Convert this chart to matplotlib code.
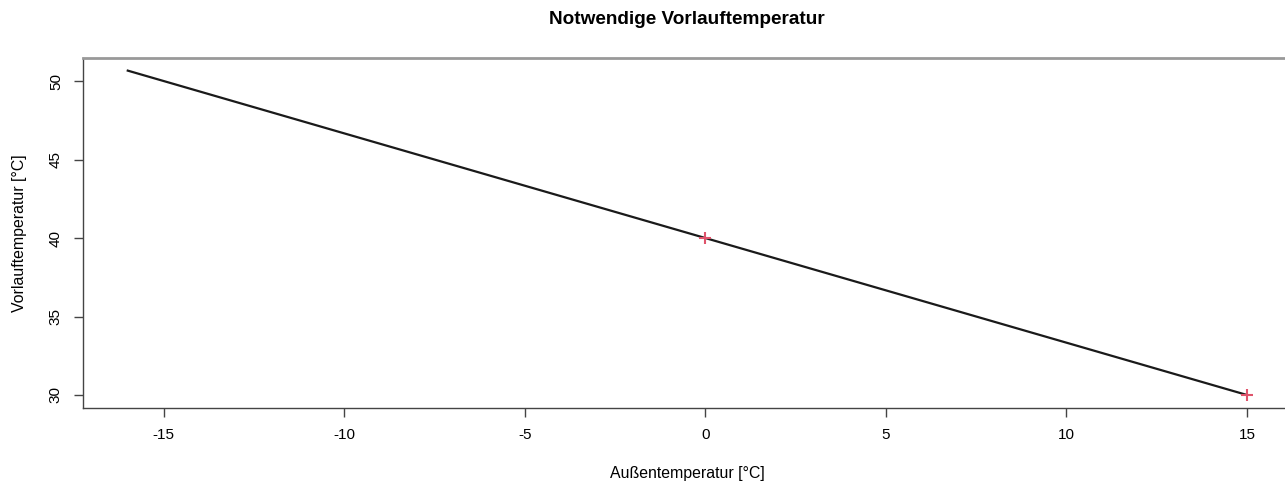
import matplotlib.pyplot as plt

plt.rcParams["font.family"] = ["Liberation Sans", "DejaVu Sans"]

# Heizkurve: Vorlauftemperatur über Außentemperatur
aussen = [-16, 0, 15]
vorlauf = [50.67, 40, 30]

# Stützpunkte der Kurve
punkte_x = [0, 15]
punkte_y = [40, 30]

xticks = [-15, -10, -5, 0, 5, 10, 15]
yticks = [30, 35, 40, 45, 50]

fig = plt.figure(figsize=(12.85, 4.84), dpi=100)
ax = fig.add_axes([83 / 1285, 76 / 484, 1208.7 / 1285, 350.4 / 484])

ax.plot(aussen, vorlauf, color="#1a1a1a", linewidth=1.6)
ax.plot(punkte_x, punkte_y, linestyle="none", marker="+", markersize=9,
        markeredgewidth=1.5, color="#DF536B")

ax.set_xlim(-17.24, 16.24)
ax.set_ylim(29.17, 51.5)
ax.set_xticks(xticks)
ax.set_yticks(yticks)
ax.set_xticklabels([str(t) for t in xticks])
ax.set_yticklabels([str(t) for t in yticks], rotation=90, va="center")
ax.tick_params(direction="out", length=6.5, width=1, colors="#444444",
               labelcolor="black", labelsize=11, pad=8)

ax.spines["right"].set_visible(False)
ax.spines["top"].set_color("#999999")
ax.spines["top"].set_linewidth(2)
for s in ("left", "bottom"):
    ax.spines[s].set_color("#444444")
    ax.spines[s].set_linewidth(1)

ax.set_xlabel("Außentemperatur [°C]", fontsize=11.4, labelpad=17)
ax.set_ylabel("Vorlauftemperatur [°C]", fontsize=11.4, labelpad=16)
fig.text(687 / 1285, 1 - 19 / 484, "Notwendige Vorlauftemperatur",
         ha="center", va="center", fontsize=13.7, fontweight="bold")

fig.savefig("out.png", dpi=100)
